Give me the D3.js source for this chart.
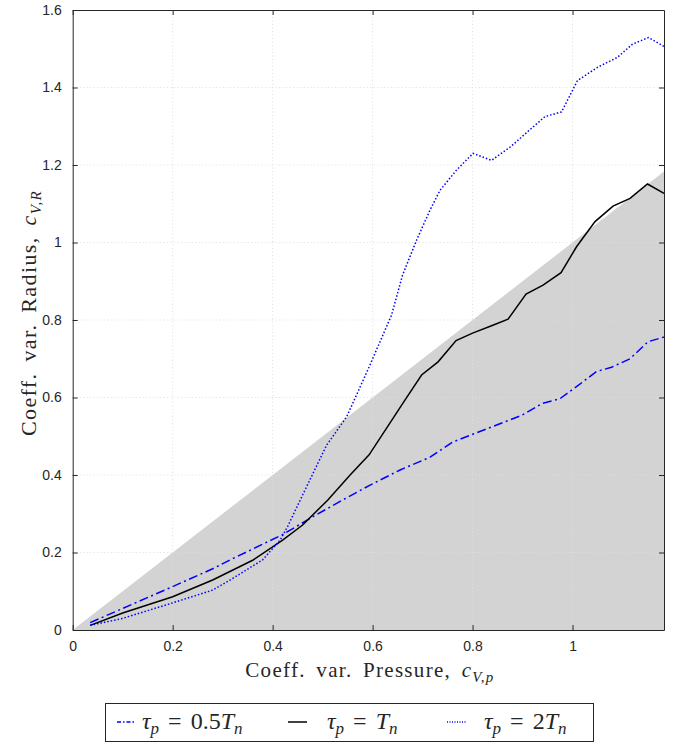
<!DOCTYPE html>
<html>
<head>
<meta charset="utf-8">
<script src="https://cdn.jsdelivr.net/npm/d3@7"></script>
<style>
  body { margin: 0; background: #fff; }
  svg text { fill: #262626; }
</style>
</head>
<body>
<div id="chart1"></div>
<script>
// tau_p = 0.5 T_n  (blue dash-dot)
var xHalf = [0.035, 0.2, 0.28, 0.315, 0.418, 0.475, 0.528, 0.595, 0.655, 0.715, 0.76, 0.8, 0.86, 0.9, 0.94, 0.975, 1.01, 1.048, 1.078, 1.115, 1.151, 1.183];
var yHalf = [0.019, 0.112, 0.158, 0.181, 0.245, 0.288, 0.327, 0.374, 0.413, 0.446, 0.485, 0.505, 0.535, 0.555, 0.585, 0.597, 0.63, 0.667, 0.678, 0.70, 0.744, 0.756];
// tau_p = T_n  (black solid)
var xOne = [0.035, 0.1, 0.2, 0.28, 0.36, 0.42, 0.46, 0.51, 0.555, 0.593, 0.665, 0.698, 0.731, 0.767, 0.8, 0.838, 0.871, 0.907, 0.941, 0.977, 1.008, 1.045, 1.081, 1.115, 1.15, 1.183];
var yOne = [0.012, 0.044, 0.086, 0.129, 0.18, 0.232, 0.271, 0.335, 0.40, 0.452, 0.594, 0.658, 0.692, 0.747, 0.766, 0.785, 0.802, 0.867, 0.89, 0.922, 0.989, 1.054, 1.094, 1.114, 1.151, 1.127];
// tau_p = 2 T_n  (blue dotted)
var xTwo = [0.035, 0.1, 0.2, 0.28, 0.32, 0.38, 0.415, 0.43, 0.468, 0.508, 0.548, 0.59, 0.638, 0.66, 0.688, 0.715, 0.735, 0.768, 0.801, 0.838, 0.876, 0.912, 0.945, 0.978, 1.01, 1.05, 1.09, 1.12, 1.152, 1.183];
var yTwo = [0.012, 0.03, 0.07, 0.103, 0.133, 0.181, 0.232, 0.267, 0.37, 0.477, 0.55, 0.67, 0.813, 0.916, 1.006, 1.084, 1.135, 1.187, 1.23, 1.212, 1.247, 1.288, 1.325, 1.337, 1.418, 1.452, 1.478, 1.512, 1.529, 1.506];

var xTicks = [0, 0.2, 0.4, 0.6, 0.8, 1],
    yTicks = [0, 0.2, 0.4, 0.6, 0.8, 1, 1.2, 1.4, 1.6],
    xMax = 1.183;

var W = 677, H = 748,
    margin = { top: 10, right: 13, bottom: 118, left: 72.7 },
    width = W - margin.left - margin.right,
    height = H - margin.top - margin.bottom;

var svg = d3.select('#chart1').append('svg')
  .attr('width', W).attr('height', H);

var g = svg.append('g')
  .attr('transform', 'translate(' + margin.left + ',' + margin.top + ')');

var xScale = d3.scaleLinear().domain([0, xMax]).range([0, width]);
var yScale = d3.scaleLinear().domain([0, 1.6]).range([height, 0]);

// shaded region under y = x
g.append('path')
  .attr('d', d3.line()([[xScale(0), yScale(0)], [xScale(xMax), yScale(xMax)], [xScale(xMax), yScale(0)]]) + 'Z')
  .attr('fill', '#d3d3d3');

// grid
g.selectAll('.gx').data(xTicks.slice(1)).enter().append('line')
  .attr('x1', xScale).attr('x2', xScale)
  .attr('y1', 0).attr('y2', height)
  .attr('stroke', '#dedede').attr('stroke-width', 1)
  .attr('stroke-dasharray', '1,2.5');
g.selectAll('.gy').data(yTicks.slice(1, -1)).enter().append('line')
  .attr('y1', yScale).attr('y2', yScale)
  .attr('x1', 0).attr('x2', width)
  .attr('stroke', '#dedede').attr('stroke-width', 1)
  .attr('stroke-dasharray', '1,2.5');

function pts(xs, ys) {
  return xs.map(function(x, i) { return [xScale(x), yScale(ys[i])]; });
}
var line = d3.line();

var series = [
  { xs: xHalf, ys: yHalf, color: '#0000ff', dash: '9,3.5,2,3.5', legDash: '4,2,1.5,2', w: 1.5 },
  { xs: xOne, ys: yOne, color: '#000000', dash: null, legDash: null, w: 1.5 },
  { xs: xTwo, ys: yTwo, color: '#0000ff', dash: '1.5,2', legDash: '1,1.5', w: 1.5 }
];

series.forEach(function(s) {
  g.append('path')
    .attr('d', line(pts(s.xs, s.ys)))
    .attr('fill', 'none')
    .attr('stroke', s.color)
    .attr('stroke-width', s.w)
    .attr('stroke-dasharray', s.dash);
});

// axes with inward ticks on all sides
var tickFont = '"Liberation Sans", Arial, sans-serif';
var axB = g.append('g').attr('transform', 'translate(0,' + height + ')')
  .call(d3.axisBottom(xScale).tickValues(xTicks).tickSizeInner(-5).tickSizeOuter(0).tickPadding(11)
    .tickFormat(function(d) { return d3.format('')(+d.toFixed(1)); }));
var axL = g.append('g')
  .call(d3.axisLeft(yScale).tickValues(yTicks).tickSizeInner(-5).tickSizeOuter(0).tickPadding(11)
    .tickFormat(function(d) { return d3.format('')(+d.toFixed(1)); }));
var axT = g.append('g')
  .call(d3.axisTop(xScale).tickValues(xTicks).tickSizeInner(-5).tickSizeOuter(0).tickFormat(''));
var axR = g.append('g').attr('transform', 'translate(' + width + ',0)')
  .call(d3.axisRight(yScale).tickValues(yTicks).tickSizeInner(-5).tickSizeOuter(0).tickFormat(''));

[axB, axL, axT, axR].forEach(function(a) {
  a.selectAll('path').attr('stroke', '#262626').attr('stroke-width', 1);
  a.selectAll('line').attr('stroke', '#262626');
  a.selectAll('text').style('font-family', tickFont).style('font-size', '14px').attr('fill', '#262626');
});

// axis labels
var serif = '"Liberation Serif", "Times New Roman", serif';
function mathLabel(sel, prefix, sub) {
  sel.append('tspan').text(prefix);
  sel.append('tspan').style('font-style', 'italic').text('c');
  sel.append('tspan').attr('dy', 5).style('font-size', '15px').style('font-style', 'italic').text(sub);
}

var xl = svg.append('text')
  .attr('x', 370).attr('y', 677)
  .attr('text-anchor', 'middle')
  .style('font-family', serif).style('font-size', '21px')
  .style('letter-spacing', '1.3px').style('word-spacing', '4px');
mathLabel(xl, 'Coeff. var. Pressure, ', 'V,p');

var yl = svg.append('text')
  .attr('transform', 'translate(36,313) rotate(-90)')
  .attr('text-anchor', 'middle')
  .style('font-family', serif).style('font-size', '22px')
  .style('letter-spacing', '1.4px').style('word-spacing', '4px');
mathLabel(yl, 'Coeff. var. Radius, ', 'V,R');

// legend
var leg = svg.append('g');
leg.append('rect')
  .attr('x', 105.5).attr('y', 703.5).attr('width', 488).attr('height', 38)
  .attr('fill', '#fff').attr('stroke', '#262626').attr('stroke-width', 1);

var legItems = [
  { s: series[0], x: 117, tx: 142, label: ['0.5', 'T'] },
  { s: series[1], x: 288, tx: 327, label: ['', 'T'] },
  { s: series[2], x: 447, tx: 484, label: ['2', 'T'] }
];
var ly = 722;
legItems.forEach(function(it) {
  leg.append('line')
    .attr('x1', it.x).attr('x2', it.x + 19)
    .attr('y1', ly).attr('y2', ly)
    .attr('stroke', it.s.color).attr('stroke-width', it.s.w)
    .attr('stroke-dasharray', it.s.legDash);
  var t = leg.append('text')
    .attr('x', it.tx).attr('y', ly + 7)
    .style('font-family', serif).style('font-size', '24px');
  t.append('tspan').style('font-style', 'italic').text('τ');
  t.append('tspan').attr('dy', 5).style('font-size', '17px').style('font-style', 'italic').text('p');
  t.append('tspan').attr('dy', -5).attr('dx', 9).text('=');
  t.append('tspan').attr('dx', 9).style('font-style', it.label[0] ? 'normal' : 'italic')
    .text(it.label[0] || it.label[1]);
  if (it.label[0]) t.append('tspan').style('font-style', 'italic').text(it.label[1]);
  t.append('tspan').attr('dy', 5).style('font-size', '17px').style('font-style', 'italic').text('n');
});
</script>
</body>
</html>
